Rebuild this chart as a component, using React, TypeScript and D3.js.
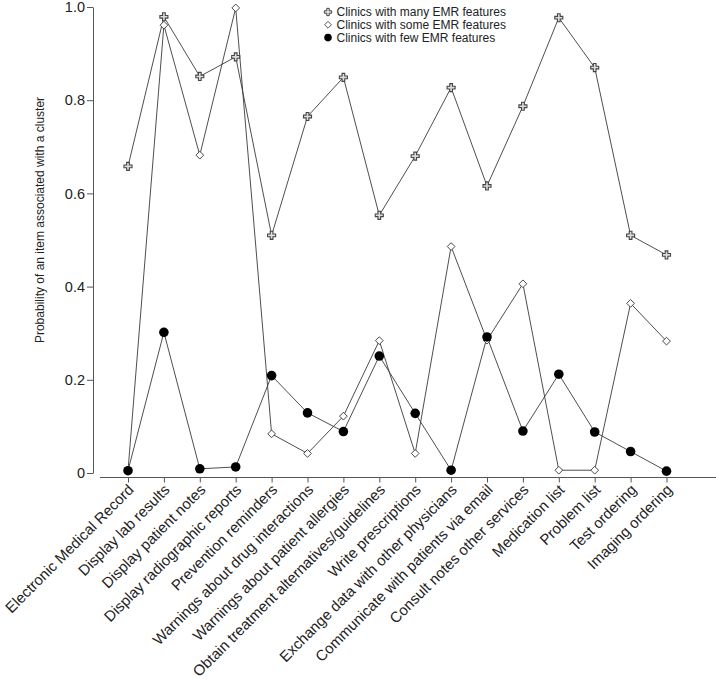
import React, { useEffect, useRef } from "react";
import * as d3 from "d3";

const categories = [
  "Electronic Medical Record",
  "Display lab results",
  "Display patient notes",
  "Display radiographic reports",
  "Prevention reminders",
  "Warnings about drug interactions",
  "Warnings about patient allergies",
  "Obtain treatment alternatives/guidelines",
  "Write prescriptions",
  "Exchange data with other physicians",
  "Communicate with patients via email",
  "Consult notes other services",
  "Medication list",
  "Problem list",
  "Test ordering",
  "Imaging ordering",
];

const manyValues = [0.658, 0.979, 0.851, 0.893, 0.51, 0.765, 0.849, 0.553, 0.68, 0.827, 0.616, 0.787, 0.977, 0.87, 0.51, 0.468];
const someValues = [0.005, 0.961, 0.682, 0.998, 0.084, 0.042, 0.122, 0.284, 0.042, 0.486, 0.285, 0.406, 0.006, 0.006, 0.364, 0.283];
const fewValues = [0.005, 0.302, 0.009, 0.013, 0.209, 0.129, 0.089, 0.251, 0.128, 0.006, 0.292, 0.09, 0.212, 0.088, 0.046, 0.004];

const seriesNames = [
  "Clinics with many EMR features",
  "Clinics with some EMR features",
  "Clinics with few EMR features",
];

const yTicks = [0, 0.2, 0.4, 0.6, 0.8, 1.0];
const yTickLabels = ["0", "0.2", "0.4", "0.6", "0.8", "1.0"];

const yTitle = "Probability of an item associated with a cluster";

const FONT = "'Liberation Sans', Arial, sans-serif";

export default function App() {
  const ref = useRef<SVGSVGElement>(null);

  useEffect(() => {
    const svg = d3.select(ref.current);
    svg.selectAll("*").remove();

    const width = 716;
    const height = 679;

    const x = d3.scalePoint<string>().domain(categories).range([128, 666.5]);
    const y = d3.scaleLinear().domain([0, 1]).range([473, 7]);

    // y axis
    const yAxis = d3.axisLeft(y)
      .tickValues(yTicks)
      .tickFormat((d, i) => yTickLabels[i])
      .tickSize(6)
      .tickPadding(2)
      .tickSizeOuter(0);

    svg.append("g")
      .attr("transform", "translate(93,0)")
      .call(yAxis)
      .call(g => g.selectAll("line, path").attr("stroke", "#555"))
      .call(g => g.selectAll("text").attr("font-size", 14.5).attr("font-family", FONT).attr("fill", "#222"));

    // x axis
    const xAxis = d3.axisBottom(x).tickSize(5).tickSizeOuter(0).tickFormat(() => "");
    const gx = svg.append("g")
      .attr("transform", "translate(0,477.5)")
      .call(xAxis);
    gx.select(".domain").attr("d", "M100,0H716");
    gx.selectAll("line, path").attr("stroke", "#555");

    svg.append("g")
      .selectAll("text")
      .data(categories)
      .enter()
      .append("text")
      .attr("transform", d => "translate(" + ((x(d) as number) + 3) + ",487) rotate(-45)")
      .attr("text-anchor", "end")
      .attr("dy", "0.35em")
      .attr("font-size", 15)
      .attr("font-family", FONT)
      .attr("fill", "#222")
      .text(d => d);

    svg.append("text")
      .attr("transform", "translate(44,220) rotate(-90)")
      .attr("text-anchor", "middle")
      .attr("font-size", 12)
      .attr("font-family", FONT)
      .attr("fill", "#222")
      .text(yTitle);

    const line = d3.line<number>()
      .x((d, i) => x(categories[i]) as number)
      .y(d => y(d));

    const allSeries = [manyValues, someValues, fewValues];
    allSeries.forEach(values => {
      svg.append("path")
        .datum(values)
        .attr("d", line)
        .attr("fill", "none")
        .attr("stroke", "#3a3a3a")
        .attr("stroke-width", 0.9);
    });

    const cross = d3.symbol().type(d3.symbolCross).size(36);
    const diamond = d3.symbol().type(d3.symbolDiamond2).size(38);

    const drawMarkers = (values: number[], kind: number) => {
      const g = svg.append("g");
      const sel = g.selectAll("path")
        .data(values)
        .enter()
        .append("path")
        .attr("transform", (d, i) => "translate(" + x(categories[i]) + "," + y(d) + ")");
      if (kind === 0) {
        sel.attr("d", cross).attr("fill", "#ddd").attr("stroke", "#444").attr("stroke-width", 1.1);
      } else if (kind === 1) {
        sel.attr("d", diamond).attr("fill", "#fff").attr("stroke", "#333").attr("stroke-width", 0.9);
      } else {
        sel.attr("d", d3.symbol().type(d3.symbolCircle).size(72)).attr("fill", "#000");
      }
    };
    drawMarkers(manyValues, 0);
    drawMarkers(someValues, 1);
    drawMarkers(fewValues, 2);

    // legend
    const legend = svg.append("g").attr("transform", "translate(328,12)");
    seriesNames.forEach((name, i) => {
      const row = legend.append("g").attr("transform", "translate(0," + i * 12.8 + ")");
      if (i === 0) {
        row.append("path").attr("d", d3.symbol().type(d3.symbolCross).size(30)).attr("fill", "#ddd").attr("stroke", "#444");
      } else if (i === 1) {
        row.append("path").attr("d", d3.symbol().type(d3.symbolDiamond2).size(30)).attr("fill", "#fff").attr("stroke", "#444").attr("stroke-width", 0.9);
      } else {
        row.append("path").attr("d", d3.symbol().type(d3.symbolCircle).size(45)).attr("fill", "#000");
      }
      row.append("text")
        .attr("x", 8.5)
        .attr("dy", "0.35em")
        .attr("font-size", 12)
        .attr("font-family", FONT)
        .attr("fill", "#222")
        .text(name);
    });

    svg.attr("width", width).attr("height", height);
  }, []);

  return (
    <div style={{ position: "absolute", left: 0, top: 0 }}>
      <svg ref={ref} width={716} height={679} style={{ display: "block", background: "#fff" }} />
    </div>
  );
}
